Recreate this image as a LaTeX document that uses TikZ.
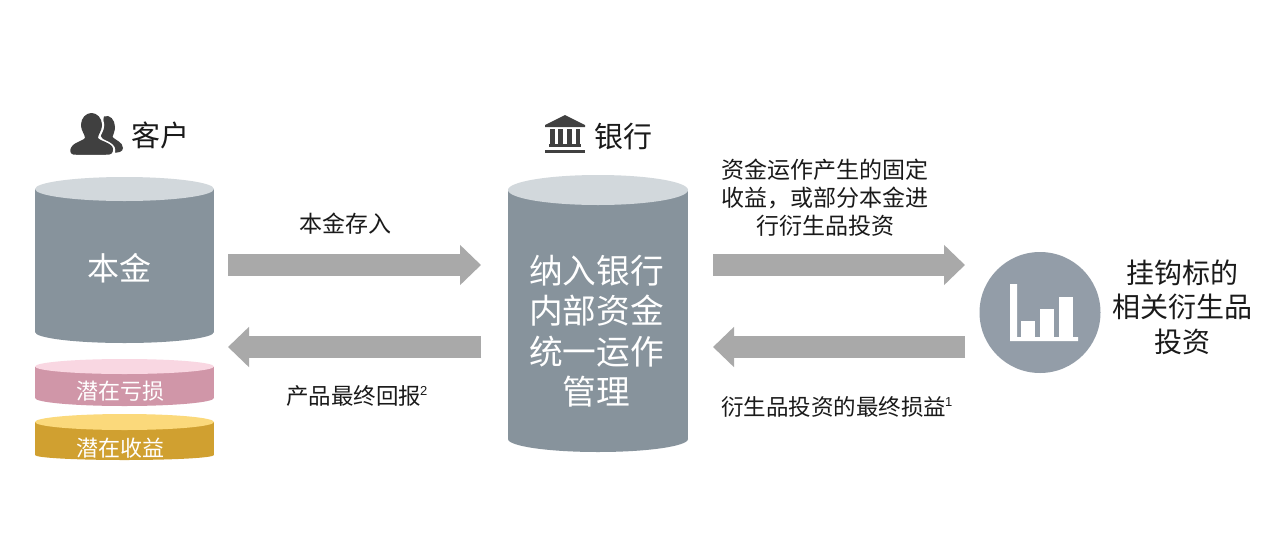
\documentclass[tikz,border=0pt]{standalone}
\usepackage{fontspec}
\setmainfont{Noto Sans CJK SC}
\setsansfont{Liberation Sans}
\usetikzlibrary{arrows.meta}
\definecolor{cylbody}{HTML}{87939C}
\definecolor{cyltop}{HTML}{D2D8DC}
\definecolor{pinkbody}{HTML}{D096A8}
\definecolor{pinktop}{HTML}{F9D7E2}
\definecolor{goldbody}{HTML}{D0A030}
\definecolor{goldtop}{HTML}{FBD97B}
\definecolor{arrowgrey}{HTML}{A9A9A9}
\definecolor{circgrey}{HTML}{939DA8}
\definecolor{icondark}{HTML}{404040}
\definecolor{txt}{HTML}{1A1A1A}
\newcommand{\fs}[2]{\fontsize{#1}{#2}\selectfont}
\newcommand{\supn}[1]{\hspace{-1pt}\raisebox{9pt}{\sffamily\fs{13}{13}#1}}
% name, x1, x2, top centre y, top ry, bottom centre y, bottom ry, body colour, top colour
\newcommand{\cylinder}[9]{%
  \fill[#8] (#2,#4) rectangle (#3,#6);
  \fill[#8] ({(#2+#3)/2},#6) ellipse [x radius={(#3-#2)/2}, y radius=#7];
  \fill[#9] ({(#2+#3)/2},#4) ellipse [x radius={(#3-#2)/2}, y radius=#5];
  \coordinate (#1) at ({(#2+#3)/2},{(#4+#6)/2});
}
\tikzset{
  blockarrow/.style={draw=arrowgrey,line width=22pt,-{Triangle[length=21pt,width=39pt,fill=arrowgrey]}},
  lbl/.style={font=\fs{23}{28},text=txt,align=center,inner sep=0pt},
  lblb/.style={font=\fs{22.5}{28},text=txt,align=center,inner sep=0pt},
  head/.style={font=\fs{29}{34},text=txt,inner sep=0pt},
  big/.style={font=\fs{33.7}{40.5},text=white,align=center,inner sep=0pt},
  disc/.style={font=\fs{22}{26},text=white,inner sep=0pt},
  side/.style={font=\fs{28}{34.5},text=txt,align=center,inner sep=0pt}
}
\begin{document}
\begin{tikzpicture}[x=1pt,y=-1pt]
\useasboundingbox (0,0) rectangle (1280,552);
\fill[white] (0,0) rectangle (1280,552);

% cylinders
\cylinder{custcyl}{35}{214}{189}{12}{332}{11}{cylbody}{cyltop}
\cylinder{bankcyl}{508}{688}{190}{15}{439}{13}{cylbody}{cyltop}
\cylinder{losscyl}{35}{214}{366.5}{7.5}{398}{8}{pinkbody}{pinktop}
\cylinder{gaincyl}{35}{214}{422}{8}{455}{5}{goldbody}{goldtop}

\node[big,font=\fs{32}{36}] (benjin) at (119.5,268) {本金};
\node[big] (pool) at (596.5,331) {纳入银行\\内部资金\\统一运作\\管理};
\node[disc] (loss) at (120.5,391) {潜在亏损};
\node[disc] (gain) at (120.5,448) {潜在收益};

% headings
\node[head] (cust) at (160,135) {客户};
\node[head] (bank) at (623,137) {银行};

% person icon
\fill[icondark] (104,116.5) .. controls (110,114) and (115,120) .. (115,127)
  .. controls (115,132) and (113,134) .. (112.5,137)
  .. controls (115,140) and (123,142) .. (123,148)
  .. controls (123,152) and (118,153) .. (113,152.5) -- (100,135) -- cycle;
\path[fill=icondark,draw=white,line width=2.5pt]
  (91.5,112) .. controls (98,112) and (103,118) .. (103,125)
  .. controls (103,131) and (99,134) .. (99,138)
  .. controls (101,141) and (114,143) .. (114,150)
  .. controls (114,155) and (112,156) .. (106,156)
  -- (76,156) .. controls (71,156) and (69,155) .. (69,150)
  .. controls (69,143) and (82,141) .. (84,138)
  .. controls (84,134) and (80,131) .. (80,125)
  .. controls (80,118) and (85,112) .. (91.5,112) -- cycle;
\fill[icondark]
  (91.5,113) .. controls (97,113) and (102,118) .. (102,125)
  .. controls (102,131) and (98,134) .. (98,138)
  .. controls (100,141) and (113,143) .. (113,149)
  .. controls (113,153) and (111,153.5) .. (106,153.5)
  -- (77,153.5) .. controls (72,153.5) and (71,153) .. (71,149)
  .. controls (71,143) and (83,141) .. (85,138)
  .. controls (85,134) and (81,131) .. (81,125)
  .. controls (81,118) and (86,113) .. (91.5,113) -- cycle;

% bank icon
\fill[icondark] (565,115) -- (585,125) -- (585,127) -- (545,127) -- (545,125) -- cycle;
\fill[icondark] (550,129) rectangle (554.5,146);
\fill[icondark] (558,129) rectangle (562.5,146);
\fill[icondark] (567,129) rectangle (571.5,146);
\fill[icondark] (575.5,129) rectangle (580,146);
\fill[icondark] (549,143.5) rectangle (581,147);
\fill[icondark] (545,149.5) rectangle (585,153);

% right circle and chart
\node[circle,fill=circgrey,minimum size=121pt,inner sep=0pt] (chart) at (1040,312.5) {};
\fill[white] (1010,284) -- (1017,284) -- (1017,337) -- (1078,337) -- (1078,341) -- (1010,341) -- cycle;
\fill[white] (1021,321) rectangle (1035,338);
\fill[white] (1040,309) rectangle (1054,338);
\fill[white] (1059,297) rectangle (1073,338);
\node[side] (deriv) at (1182,307) {挂钩标的\\相关衍生品\\投资};

% arrow ends
\coordinate (a1s) at (228,265);
\coordinate (a1e) at (481,265);
\coordinate (a2s) at (481,347);
\coordinate (a2e) at (228,347);
\coordinate (a3s) at (713,265);
\coordinate (a3e) at (965,265);
\coordinate (a4s) at (965,347);
\coordinate (a4e) at (713,347);
\draw[blockarrow] (a1s) -- (a1e);
\draw[blockarrow] (a2s) -- (a2e);
\draw[blockarrow] (a3s) -- (a3e);
\draw[blockarrow] (a4s) -- (a4e);

% labels
\node[lbl] (l1) at (345,224) {本金存入};
\node[lblb,anchor=west] (l2) at (286,396) {产品最终回报\supn{2}};
\node[lbl] (l3) at (825,197.5) {资金运作产生的固定\\收益，或部分本金进\\行衍生品投资};
\node[lblb,anchor=west] (l4) at (721,407) {衍生品投资的最终损益\supn{1}};
\end{tikzpicture}
\end{document}
